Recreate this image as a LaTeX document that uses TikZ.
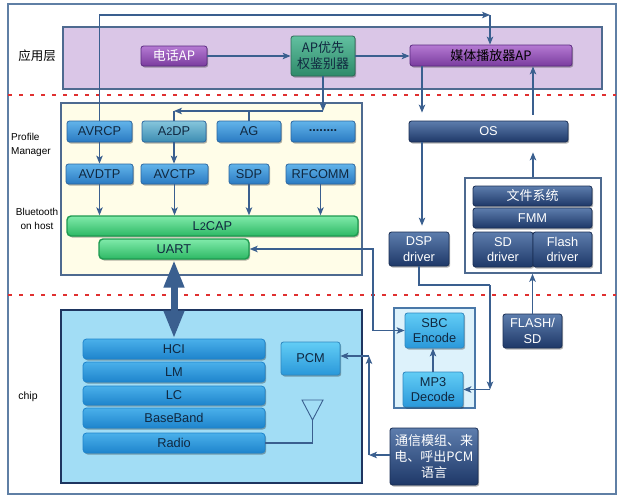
\documentclass[tikz,border=0pt]{standalone}
\usepackage{fontspec}
\setmainfont{Liberation Sans}
\newfontfamily\cjk{Noto Sans CJK SC}
\usetikzlibrary{arrows.meta,shadows}
\definecolor{frameC}{HTML}{5F7FA5}
\definecolor{areaB}{HTML}{4E6A90}
\definecolor{appF}{HTML}{DAC6E7}
\definecolor{creamF}{HTML}{FFFDE8}
\definecolor{chipF}{HTML}{A2DDF5}
\definecolor{chipD}{HTML}{1E3560}
\definecolor{lineC}{HTML}{3A5F8F}
\definecolor{redC}{HTML}{E03030}
\definecolor{purpT}{HTML}{B57AD3}
\definecolor{purpB}{HTML}{7A3C9E}
\definecolor{purpD}{HTML}{5A2A80}
\definecolor{grnT}{HTML}{62C0A0}
\definecolor{grnB}{HTML}{2E8A6A}
\definecolor{grnD}{HTML}{2A6A55}
\definecolor{bluT}{HTML}{62B4EA}
\definecolor{bluB}{HTML}{2A7AC2}
\definecolor{bluD}{HTML}{2A66A0}
\definecolor{tealT}{HTML}{86C6DC}
\definecolor{tealB}{HTML}{3C8CB2}
\definecolor{gT}{HTML}{80EAAA}
\definecolor{gB}{HTML}{2DB864}
\definecolor{gD}{HTML}{1E9A50}
\definecolor{navT}{HTML}{5D7DAD}
\definecolor{navB}{HTML}{1E3868}
\definecolor{navD}{HTML}{1A2F55}
\definecolor{skyT}{HTML}{62CDF5}
\definecolor{skyB}{HTML}{2A98DA}
\definecolor{skyD}{HTML}{2F88C0}
\definecolor{layT}{HTML}{4AB0EA}
\definecolor{layB}{HTML}{1E84CC}
\definecolor{txtD}{HTML}{102840}
\definecolor{grpF}{HTML}{DDF2FB}
\definecolor{grpD}{HTML}{4A78A8}
\definecolor{bigC}{HTML}{3A5F8F}
\tikzset{
  fsz/.style={font=\fontsize{12.8}{15.5}\selectfont},
  bx/.style={rounded corners=2.5pt, inner sep=0pt, align=center, fsz, line width=0.8pt,
    drop shadow={shadow xshift=1.2pt, shadow yshift=-1.5pt, opacity=.3, fill=black}},
  sz/.style 2 args={minimum width=#1, minimum height=#2},
  purp/.style={bx, draw=purpD, top color=purpT, bottom color=purpB},
  grn/.style={bx, draw=grnD, top color=grnT, bottom color=grnB, text=txtD},
  blu/.style={bx, draw=bluD, top color=bluT, bottom color=bluB, text=txtD},
  teal/.style={bx, draw=bluD, top color=tealT, bottom color=tealB, text=txtD},
  l2/.style={bx, rounded corners=4pt, draw=gD, top color=gT, bottom color=gB, text=txtD, line width=1.4pt},
  nav/.style={bx, draw=navD, top color=navT, bottom color=navB, text=white},
  sky/.style={bx, draw=skyD, top color=skyT, bottom color=skyB, text=txtD},
  lay/.style={bx, rounded corners=3.5pt, draw=layB, top color=layT, bottom color=layB, text=txtD},
  area/.style={draw=areaB, line width=1.6pt, inner sep=0pt},
  conn/.style={draw=lineC, line width=1.1pt},
  redline/.style={draw=redC, line width=2.4pt, dash pattern=on 3.5pt off 7.5pt},
  lbl/.style={font=\fontsize{10}{14}\selectfont, inner sep=0pt},
}
\begin{document}
\begin{tikzpicture}[x=1pt,y=-1pt, >={Stealth[length=8pt,width=6.5pt,inset=2pt]}]
\useasboundingbox (0,0) rectangle (620,498);
\fill[white] (0,0) rectangle (620,498);
% outer frame
\draw[frameC, line width=1.5pt] (8,4) rectangle (616,494);
% areas
\node[area, fill=appF, sz={539pt}{62pt}] (apparea) at (332.5,58) {};
\node[area, fill=creamF, sz={301pt}{172pt}] (hostarea) at (211.5,189) {};
\node[area, fill=chipF, draw=chipD, line width=2pt, sz={301pt}{173pt}] (chiparea) at (211.5,396.5) {};
\node[area, fill=white, sz={136pt}{95pt}] (fsbox) at (533,225.5) {};
\node[area, fill=grpF, draw=grpD, sz={81pt}{100pt}] (cbox) at (434.5,358) {};
% red separators
\coordinate (r1a) at (8,95); \coordinate (r1b) at (616,95);
\coordinate (r2a) at (8,295); \coordinate (r2b) at (616,295);
\draw[redline] (r1a) -- (r1b);
\draw[redline] (r2a) -- (r2b);
% side labels
\node[lbl, font=\cjk\fontsize{12.5}{14}\selectfont] (lapp) at (37,56) {应用层};
\node[lbl, anchor=west, align=left] (lpm) at (11,145) {Profile\\Manager};
\node[lbl, align=center] (lbt) at (37,218.5) {Bluetooth\\on host};
\node[lbl, font=\fontsize{10.5}{14}\selectfont] (lchip) at (28,397) {chip};
% application layer
\node[purp, sz={66pt}{20pt}, text=white, font=\cjk\fontsize{13}{15}\selectfont] (tel) at (174,56) {电话AP};
\node[grn, sz={64pt}{40pt}, font=\cjk\fontsize{13}{16}\selectfont] (apq) at (323,56) {AP优先\\权鉴别器};
\node[purp, sz={162pt}{21pt}, text=black, font=\cjk\fontsize{13}{15}\selectfont] (media) at (491,55.5) {媒体播放器AP};
% profiles
\node[blu, sz={65pt}{21pt}] (avrcp) at (99.5,131.5) {AVRCP};
\node[teal, sz={64pt}{21pt}] (a2dp) at (174,131.5) {A{\fontsize{11}{12}\selectfont 2}DP};
\node[blu, sz={64pt}{21pt}] (ag) at (249,131.5) {AG};
\node[blu, sz={64pt}{21pt}] (dots) at (323,131.5) {\textbf{\raisebox{2pt}{........}}};
\node[blu, sz={67pt}{20pt}] (avdtp) at (99.5,174) {AVDTP};
\node[blu, sz={67pt}{20pt}] (avctp) at (174.5,174) {AVCTP};
\node[blu, sz={40pt}{20pt}] (sdp) at (249,174) {SDP};
\node[blu, sz={69pt}{20pt}] (rfcomm) at (320.5,174) {RFCOMM};
\node[l2, sz={291pt}{20pt}] (l2cap) at (212.5,226) {L{\fontsize{11}{12}\selectfont 2}CAP};
\node[l2, sz={150pt}{20pt}] (uart) at (174,249) {UART};
% OS side
\node[nav, sz={159pt}{21pt}] (os) at (488.5,131.5) {OS};
\node[nav, sz={60pt}{34pt}] (dsp) at (419,249) {DSP\\driver};
\node[nav, sz={119pt}{20pt}, font=\cjk\fontsize{13}{15}\selectfont] (fsys) at (532.5,196) {文件系统};
\node[nav, sz={119pt}{20pt}] (fmm) at (532.5,218) {FMM};
\node[nav, sz={60pt}{35pt}] (sd) at (503,249.5) {SD\\driver};
\node[nav, sz={59pt}{35pt}] (flash) at (562.5,249.5) {Flash\\driver};
\node[nav, sz={59pt}{34pt}] (flashsd) at (532.5,331) {FLASH/\\SD};
\node[nav, sz={88pt}{57pt}, font=\cjk\fontsize{13}{16}\selectfont] (tx) at (434,456.5) {通信模组、来\\电、呼出PCM\\语言};
\node[sky, sz={59pt}{35pt}] (sbc) at (434.5,330.5) {SBC\\Encode};
\node[sky, sz={60pt}{35pt}] (mp3) at (433,389.5) {MP3\\Decode};
% chip
\node[lay, sz={182pt}{20pt}] (hci) at (174,349) {HCI};
\node[lay, sz={182pt}{20pt}] (lm) at (174,372) {LM};
\node[lay, sz={182pt}{19pt}] (lc) at (174,395.5) {LC};
\node[lay, sz={182pt}{20pt}] (bb) at (174,418) {BaseBand};
\node[lay, sz={182pt}{20pt}] (radio) at (174,443) {Radio};
\node[sky, sz={59pt}{33pt}] (pcm) at (310.5,358.5) {PCM};
% antenna
\coordinate (ant) at (312.5,420);
\draw[conn, line width=0.9pt] (302,400) -- (323,400) -- (ant) -- cycle;
\draw[conn] (radio.east) -| (ant);
% connectors: application layer
\coordinate (ctop) at (490,15);
\draw[conn,->] (avrcp.north) |- (ctop);
\draw[conn,->] (ctop) -- (ctop |- media.north);
\draw[conn,->] (tel.east) -- (apq.west);
\draw[conn,->] (apq.east) -- (apq.east -| media.west);
\coordinate (q1) at (323,111);
\coordinate (q2) at (174,111);
\draw[conn,->] (apq.south) -- (q1);
\draw[conn,->] (q1) -- (q2);
\draw[conn] (q2) -- (a2dp.north);
\draw[conn] (ag.north) -- (ag.north |- q1);
% profiles to L2CAP
\draw[conn,->] (avrcp.south) -- (avdtp.north);
\draw[conn,->] (a2dp.south) -- (a2dp.south |- avctp.north);
\draw[conn,->] (avdtp.south) -- (avdtp.south |- l2cap.north);
\draw[conn,->] (avctp.south) -- (avctp.south |- l2cap.north);
\draw[conn,->] (sdp.south) -- (sdp.south |- l2cap.north);
\draw[conn,->] (rfcomm.south) -- (rfcomm.south |- l2cap.north);
% big double arrow
\draw[bigC, line width=7pt, {Triangle[width=19pt,length=28pt]}-{Triangle[width=19pt,length=28pt]}] (uart.south) -- (hci.north);
% OS side
\coordinate (xm1) at (422,0);
\coordinate (xm2) at (533,0);
\draw[conn,->,shorten >=8pt] (media.south -| xm1) -- (xm1 |- os.north);
\draw[conn,->,shorten <=6pt] (xm2 |- os.north) -- (xm2 |- media.south);
\draw[conn,->,shorten >=10pt] (fsbox.north) -- (xm2 |- os.south);
\draw[conn,->,shorten >=6pt] (os.south -| xm1) -- (xm1 |- dsp.north);
\draw[conn,->] (flashsd.north) -- (flashsd.north |- fsbox.south);
% DSP to MP3
\coordinate (dm1) at (490,285);
\coordinate (dm2) at (490,389.5);
\draw[conn] (dsp.south) |- (dm1);
\draw[conn,->] (dm1) -- (dm2);
\draw[conn,->] (dm2) -- (mp3.east);
\draw[conn,->] (mp3.north) -- (mp3.north |- sbc.south);
% UART <-> SBC
\coordinate (su1) at (373,249);
\coordinate (su2) at (373,330.5);
\draw[conn,<->] (uart.east) -- (su1) -- (su2) -- (sbc.west);
% tx -> PCM
\coordinate (tp1) at (369,455);
\coordinate (tp2) at (369,356);
\draw[conn,->] (tx.west |- tp1) -- (tp1);
\draw[conn,->] (tp1) -- (tp2);
\draw[conn,->] (tp2) -- (tp2 -| pcm.east);
\end{tikzpicture}
\end{document}
